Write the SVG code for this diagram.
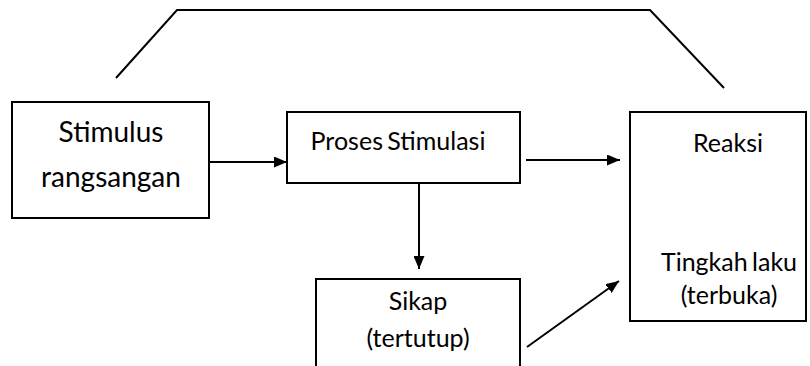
<svg xmlns="http://www.w3.org/2000/svg" width="810" height="366" viewBox="0 0 810 366">
<style>
.box{fill:#fff;stroke:#000;stroke-width:2}
.ln{fill:none;stroke:#000;stroke-width:2}
text{font-family:Lato,"Open Sans",sans-serif;font-size:25px;fill:#000;text-anchor:middle;word-spacing:-2px}
.big{font-size:28px}
</style>
<defs>
<marker id="ah" markerWidth="13" markerHeight="11" refX="13" refY="5.5" orient="auto" markerUnits="userSpaceOnUse">
<path d="M0,0 L13,5.5 L0,11 Z" fill="#000"/>
</marker>
</defs>
<rect width="810" height="366" fill="#fff"/>
<g id="connectors">
<polyline class="ln" points="116,78 177,10 650,10 724,88"/>
<line class="ln" x1="209" y1="162" x2="287" y2="162" marker-end="url(#ah)"/>
<line class="ln" x1="526" y1="160" x2="620" y2="160" marker-end="url(#ah)"/>
<line class="ln" x1="419" y1="183" x2="419" y2="269" marker-end="url(#ah)"/>
<line class="ln" x1="527" y1="347" x2="619" y2="281" marker-end="url(#ah)"/>
</g>
<g id="stimulus">
<rect class="box" x="12" y="102" width="197" height="116"/>
<text class="big" x="111" y="142">Stimulus</text>
<text class="big" x="111" y="187">rangsangan</text>
</g>
<g id="proses">
<rect class="box" x="287" y="112" width="233" height="71"/>
<text x="398" y="150">Proses Stimulasi</text>
</g>
<g id="sikap">
<rect class="box" x="316" y="279" width="204" height="100"/>
<text x="418" y="310">Sikap</text>
<text x="418" y="347">(tertutup)</text>
</g>
<g id="reaksi">
<rect class="box" x="630" y="112" width="176" height="209"/>
<text x="728" y="152">Reaksi</text>
<text x="729" y="271">Tingkah laku</text>
<text x="729" y="304">(terbuka)</text>
</g>
</svg>
